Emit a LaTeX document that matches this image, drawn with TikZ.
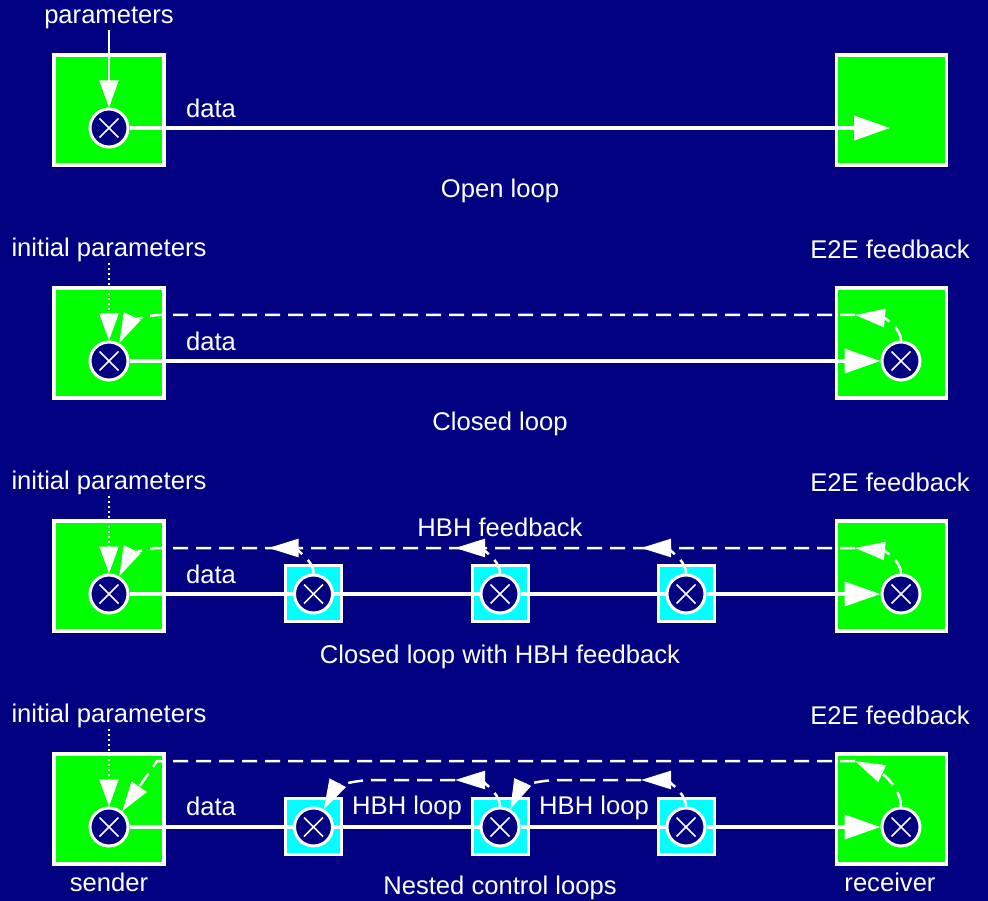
\documentclass[tikz,border=0pt]{standalone}
\usepackage{fontspec}
\setmainfont{Liberation Sans}
\usetikzlibrary{arrows.meta, positioning}
\definecolor{navy}{RGB}{0,0,128}
\definecolor{boxgreen}{RGB}{0,255,0}
\definecolor{hopcyan}{RGB}{0,255,255}

\begin{document}
\begin{tikzpicture}[x=1pt, y=-1pt,
  txt/.style={text=white, font=\fontsize{25.6}{30}\selectfont, inner sep=1pt},
  endbox/.style={rectangle, draw=white, fill=boxgreen, line width=3.5pt, minimum size=110pt},
  hopbox/.style={rectangle, draw=white, fill=hopcyan, line width=3pt, minimum size=56pt},
  mix/.style={circle, draw=white, fill=navy, line width=3pt, minimum size=38pt, inner sep=0pt,
    path picture={\draw[white, line width=1.6pt]
      ([shift={(-9.5pt,-9.5pt)}]path picture bounding box.center) -- ([shift={(9.5pt,9.5pt)}]path picture bounding box.center)
      ([shift={(-9.5pt,9.5pt)}]path picture bounding box.center) -- ([shift={(9.5pt,-9.5pt)}]path picture bounding box.center);}},
  data/.style={draw=white, line width=4pt},
  dataend/.style={data, -{Triangle[length=36pt, width=24pt]}},
  param/.style={draw=white, line width=2pt, -{Triangle[length=27pt, width=19pt]}},
  initp/.style={param, dash pattern=on 2pt off 3pt},
  fb/.style={draw=white, line width=2.5pt, dash pattern=on 15pt off 8pt},
  fbend/.style={fb, -{Triangle[length=30pt, width=18pt]}}]

  \fill[navy] (0,0) rectangle (988,901);

  % open loop
  \node[txt] (par1) at (109,18) {parameters};
  \node[endbox] (sbox1) at (109,110) {};
  \node[endbox] (rbox1) at (891.5,110) {};
  \node[mix] (smix1) at (109,128) {};
  \coordinate (tip1) at (890,128);
  \draw[param] (par1) -- (smix1);
  \draw[dataend] (smix1) -- (tip1);
  \node[txt] (dat1) at (211,108) {data};
  \node[txt] (cap1) at (500,191) {Open loop};

  % closed loop
  \node[txt] (ini2) at (109,250) {initial parameters};
  \node[txt] (e2e2) at (890,249) {E2E feedback};
  \node[endbox] (sbox2) at (109,343) {};
  \node[endbox] (rbox2) at (891.5,343) {};
  \node[mix] (smix2) at (109,361) {};
  \node[mix] (rmix2) at (901,361) {};
  \draw[initp] (ini2) -- (smix2);
  \draw[dataend] (smix2) -- (rmix2);
  \node[txt] (dat2) at (211,341) {data};
  \coordinate (back2a) at (855,315);
  \coordinate (back2b) at (160,315);
  \draw[fbend] (rmix2.north) .. controls (901,328) and (885,318) .. (back2a);
  \draw[fbend] (back2a) -- (back2b) .. controls (140,315) and (128,325) .. (smix2.60);
  \node[txt] (cap2) at (500,424) {Closed loop};

  % closed loop with HBH feedback
  \node[txt] (ini3) at (109,483) {initial parameters};
  \node[txt] (e2e3) at (890,482) {E2E feedback};
  \node[endbox] (sbox3) at (109,576) {};
  \node[endbox] (rbox3) at (891.5,576) {};
  \node[mix] (smix3) at (109,594) {};
  \node[mix] (rmix3) at (901,594) {};
  \foreach \n/\x in {a/313.5, b/500, c/686} {
    \node[hopbox] (hbox3\n) at (\x,593.5) {};
    \node[mix] (hop3\n) at (\x,594) {};
    \coordinate (hbh3\n) at (\x-45,548);
  }
  \draw[initp] (ini3) -- (smix3);
  \draw[data] (smix3) -- (hop3a);
  \draw[data] (hop3a) -- (hop3b);
  \draw[data] (hop3b) -- (hop3c);
  \draw[dataend] (hop3c) -- (rmix3);
  \node[txt] (dat3) at (211,574) {data};
  \coordinate (back3a) at (855,548);
  \coordinate (back3b) at (160,548);
  \draw[fbend] (rmix3.north) .. controls (901,561) and (885,551) .. (back3a);
  \draw[fbend] (back3a) -- (back3b) .. controls (140,548) and (128,558) .. (smix3.60);
  \foreach \n in {a,b,c}
    \draw[fbend] (hop3\n.north) .. controls +(0,-16) and +(22,0) .. (hbh3\n);
  \node[txt] (hbh3) at (500,527) {HBH feedback};
  \node[txt] (cap3) at (500,657) {Closed loop with HBH feedback};

  % nested control loops
  \node[txt] (ini4) at (109,716) {initial parameters};
  \node[txt] (e2e4) at (890,715) {E2E feedback};
  \node[endbox] (sbox4) at (109,809) {};
  \node[endbox] (rbox4) at (891.5,809) {};
  \node[mix] (smix4) at (109,827) {};
  \node[mix] (rmix4) at (901,827) {};
  \foreach \n/\x in {a/313.5, b/500, c/686} {
    \node[hopbox] (hbox4\n) at (\x,826.5) {};
    \node[mix] (hop4\n) at (\x,827) {};
    \coordinate (hbh4\n) at (\x-45,780);
  }
  \draw[initp] (ini4) -- (smix4);
  \draw[data] (smix4) -- (hop4a);
  \draw[data] (hop4a) -- (hop4b);
  \draw[data] (hop4b) -- (hop4c);
  \draw[dataend] (hop4c) -- (rmix4);
  \node[txt] (dat4) at (211,806) {data};
  \coordinate (back4a) at (855,761);
  \coordinate (back4b) at (157,761);
  \draw[fbend] (rmix4.north) .. controls (901,790) and (885,775) .. (back4a);
  \draw[fbend] (back4a) -- (back4b) -- (smix4.50);
  \coordinate (loop4b) at (560,780);
  \coordinate (loop4a) at (375,780);
  \draw[fbend] (hop4c.north) .. controls +(0,-16) and +(22,0) .. (hbh4c);
  \draw[fbend] (hbh4c) -- (loop4b) .. controls (535,780) and (520,788) .. (hop4b.60);
  \draw[fbend] (hop4b.north) .. controls +(0,-16) and +(22,0) .. (hbh4b);
  \draw[fbend] (hbh4b) -- (loop4a) .. controls (350,780) and (335,788) .. (hop4a.60);
  \node[txt] (loopa) at (407,808) {HBH loop};
  \node[txt] (loopb) at (594,808) {HBH loop};
  \node[txt] (snd) at (109,882) {sender};
  \node[txt] (rcv) at (890,882) {receiver};
  \node[txt] (cap4) at (500,888) {Nested control loops};
\end{tikzpicture}
\end{document}
